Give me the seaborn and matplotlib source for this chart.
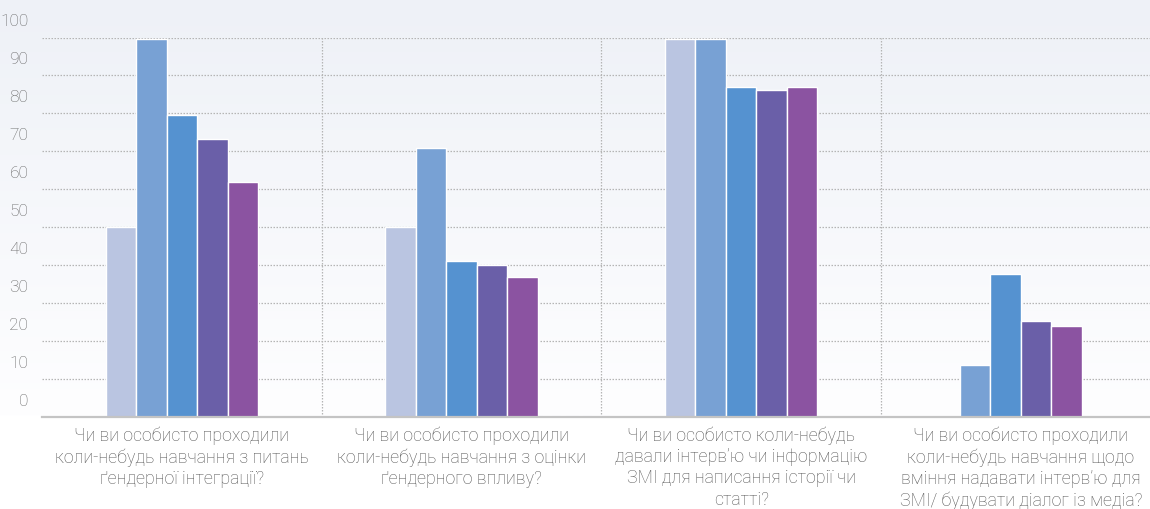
import numpy as np
import pandas as pd
import matplotlib
matplotlib.use("Agg")
import matplotlib.pyplot as plt
import matplotlib.transforms as mtransforms
import seaborn as sns

# Questions (x categories)
questions = [
    "Чи ви особисто проходили\nколи-небудь навчання з питань\nґендерної інтеграції?",
    "Чи ви особисто проходили\nколи-небудь навчання з оцінки\nґендерного впливу?",
    "Чи ви особисто коли-небудь\nдавали інтерв’ю чи інформацію\nЗМІ для написання історії чи\nстатті?",
    "Чи ви особисто проходили\nколи-небудь навчання щодо\nвміння надавати інтерв’ю для\nЗМІ/ будувати діалог із медіа?",
]

# Respondent groups (one bar each per question), values in percent;
# None = no answer for that group
groups = ["Г1", "Г2", "Г3", "Г4", "Г5"]
g1 = [50.0, 50.0, 99.6, None]
g2 = [99.6, 70.8, 99.6, 13.6]
g3 = [79.5, 41.0, 86.9, 37.6]
g4 = [73.2, 40.0, 86.1, 25.2]
g5 = [61.9, 36.8, 86.9, 23.9]

palette = ["#bac5e1", "#78a1d4", "#5592d0", "#6a5fa8", "#8b53a1"]
yticks = list(range(0, 101, 10))

rows = []
for name, vals in zip(groups, [g1, g2, g3, g4, g5]):
    for q, v in zip(questions, vals):
        rows.append({"question": q, "group": name,
                     "value": np.nan if v is None else v})
df = pd.DataFrame(rows)

sns.set_theme(style="white")
plt.rcParams["font.family"] = ["Roboto", "DejaVu Sans"]

W, H = 1150, 509
fig = plt.figure(figsize=(W / 100, H / 100), dpi=100)

# soft vertical background gradient behind the plot area
bg = fig.add_axes([0, 0, 1, 1], zorder=-10)
bg.axis("off")
ax_bottom = 92.5 / H
grad = np.ones((256, 1, 3))
top_col = np.array([0xee, 0xf1, 0xf7]) / 255.0
bot_col = np.array([0xfe, 0xfe, 0xff]) / 255.0
t = np.linspace(0, 1, 256)[:, None]
grad[:, 0, :] = top_col * (1 - t) + bot_col * t
bg.imshow(grad, aspect="auto", extent=[0, 1, ax_bottom, 1], origin="upper")
bg.set_xlim(0, 1)
bg.set_ylim(0, 1)

ax = fig.add_axes([42.2 / W, ax_bottom, 1118.4 / W, (416.5 - 37.5) / H])
ax.patch.set_alpha(0)

bar_width = 0.545
sns.barplot(data=df, x="question", y="value", hue="group", palette=palette,
            width=bar_width, gap=0, saturation=1, legend=False, ax=ax, zorder=3)

# re-centre each cluster on its category when leading groups have no value
n_groups = len(groups)
slot = bar_width / n_groups
all_series = (g1, g2, g3, g4, g5)
for i, q in enumerate(questions):
    present = df[df["question"] == q]["value"].notna().sum()
    leading_missing = 0
    for g in all_series:
        if g[i] is None:
            leading_missing += 1
        else:
            break
    offset = -(n_groups - present) * slot / 2 if leading_missing else 0.0
    if offset:
        for p in ax.patches:
            cx = p.get_x() + p.get_width() / 2
            if abs(cx - i) < bar_width / 2 + 1e-6:
                p.set_x(p.get_x() + offset)

ax.set_xlim(-0.5, 3.5)
ax.set_ylim(0, 100)
ax.set_yticks(yticks)
ax.set_xlabel("")
ax.set_ylabel("")

grid_kw = dict(color="#b5b5b5", lw=0.9, ls=(0, (1.2, 1.2)), zorder=1)
for y in yticks[1:]:
    ax.axhline(y, **grid_kw)
for x in [0.5, 1.5, 2.5]:
    ax.axvline(x, **grid_kw)

for side in ["top", "right", "left"]:
    ax.spines[side].set_visible(False)
ax.spines["bottom"].set_color("#c4c4c4")
ax.spines["bottom"].set_linewidth(1.6)
ax.spines["bottom"].set_zorder(4)

ax.tick_params(axis="both", length=0)
ax.tick_params(axis="y", pad=10, labelsize=12.5, labelcolor="#666666")
ax.tick_params(axis="x", pad=7, labelsize=12.8, labelcolor="#555555")

# y labels sit half a step above their gridlines
shift = mtransforms.ScaledTranslation(0, 17 / 100, fig.dpi_scale_trans)
for lab in ax.get_yticklabels():
    lab.set_transform(lab.get_transform() + shift)
    lab.set_fontweight("light")
for lab in ax.get_xticklabels():
    lab.set_fontweight("light")
    lab.set_linespacing(1.24)
    lab.set_horizontalalignment("center")

fig.savefig("out.png", dpi=100)
